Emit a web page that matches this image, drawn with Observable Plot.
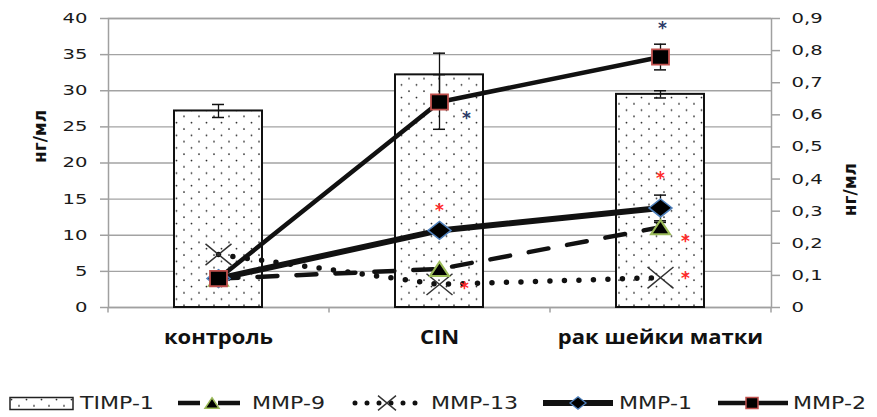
<!DOCTYPE html>
<html><head><meta charset="utf-8">
<script src="https://cdn.jsdelivr.net/npm/d3@7"></script>
<script src="https://cdn.jsdelivr.net/npm/@observablehq/plot@0.6"></script>
<style>body{margin:0;background:#fff;} svg{display:block;}</style>
</head><body><div id="chart"></div>
<script>
// ---- data ----
const categories = ["контроль", "CIN", "рак шейки матки"];
const leftTicks = [0, 5, 10, 15, 20, 25, 30, 35, 40];
const rightTicks = [0, 0.1, 0.2, 0.3, 0.4, 0.5, 0.6, 0.7, 0.8, 0.9];
const timp1 = [27.2, 32.2, 29.5];
const timp1Err = [0.9, 3.0, 0.5];
const mmp9 = [0.09, 0.12, 0.25];
const mmp9Err = [0, 0, 0.015];
const mmp13 = [0.165, 0.072, 0.093];
const mmp1 = [0.09, 0.24, 0.31];
const mmp1Err = [0, 0, 0.04];
const mmp2 = [0.09, 0.64, 0.78];
const mmp2Err = [0, 0.085, 0.04];
// significance asterisks (category, value on right axis)
const starsRedCenter = [["CIN", 0.318], ["рак шейки матки", 0.417]];
const starsRedSide = [["CIN", 0.075], ["рак шейки матки", 0.221], ["рак шейки матки", 0.106]];
const starsDarkCenter = [["рак шейки матки", 0.884]];
const starsDarkSide = [["CIN", 0.604]];
const legendNames = ["TIMP-1", "MMP-9", "MMP-13", "MMP-1", "MMP-2"];

// ---- helpers ----
const k = 40 / 0.9; // right axis -> left axis units
const rowsL = (vals, errs) => categories.map((c, i) => ({c, v: vals[i], e: errs ? errs[i] : 0}));
const rowsR = (vals, errs) => categories.map((c, i) => ({c, v: vals[i] * k, e: errs ? errs[i] * k : 0}));
const timpRows = rowsL(timp1, timp1Err);
const m9 = rowsR(mmp9, mmp9Err), m13 = rowsR(mmp13), m1 = rowsR(mmp1, mmp1Err), m2 = rowsR(mmp2, mmp2Err);
const stars = a => a.map(([c, v]) => ({c, v: v * k}));
const fmtR = d => { const v = Math.round(d / k * 10) / 10; return v === 0 ? "0" : v.toFixed(1).replace(".", ","); };

function sym(fn) { return {draw(ctx, size) { fn(ctx, Math.sqrt(size / Math.PI)); }}; }
const symSquare = sym((c, r) => { c.rect(-r, -r * 0.9, 2 * r, 1.8 * r); });
const symDiamond = sym((c, r) => { c.moveTo(0, -r * 0.78); c.lineTo(r, 0); c.lineTo(0, r * 0.78); c.lineTo(-r, 0); c.closePath(); });
const symTri = sym((c, r) => { c.moveTo(0, -r * 0.75); c.lineTo(r, r * 0.75); c.lineTo(-r, r * 0.75); c.closePath(); });
const symX = sym((c, r) => { const h = r * 0.82; c.moveTo(-r, -h); c.lineTo(r, h); c.moveTo(-r, h); c.lineTo(r, -h); });

const errMarks = (rows, sw) => {
  const d = rows.filter(r => r.e > 0);
  return [
    Plot.ruleX(d, {x: "c", y1: r => r.v - r.e, y2: r => r.v + r.e, stroke: "#111", strokeWidth: sw}),
    Plot.tickY(d, {x: "c", y: r => r.v + r.e, insetLeft: 38, insetRight: 38, stroke: "#111", strokeWidth: 1.5}),
    Plot.tickY(d, {x: "c", y: r => r.v - r.e, insetLeft: 38, insetRight: 38, stroke: "#111", strokeWidth: 1.5})
  ];
};
const starMark = (a, color, dx) => Plot.text(stars(a), {x: "c", y: "v", text: () => "*", fill: color, fontSize: 17, fontWeight: "bold", fontFamily: "DejaVu Sans", dx, dy: 5});

const half = (877 - 108 - 106) / categories.length / 2;

const svg = Plot.plot({
  width: 877, height: 365,
  marginTop: 18, marginLeft: 108, marginRight: 106, marginBottom: 58,
  style: {fontFamily: "DejaVu Sans", background: "white"},
  x: {domain: categories, paddingInner: 0.6, paddingOuter: 0.3, axis: null},
  y: {domain: [0, 40], axis: null},
  marks: [
    Plot.gridY(leftTicks, {stroke: "#a3a3a3", strokeOpacity: 1, strokeWidth: 1.3}),
    Plot.frame({stroke: "#a0a0a0", strokeWidth: 1.5}),
    Plot.ruleX(categories, {x: d => d, y1: 0, y2: -0.75, dx: -half, stroke: "#a0a0a0", strokeWidth: 1.5}),
    Plot.ruleX(categories.slice(-1), {x: d => d, y1: 0, y2: -0.75, dx: half, stroke: "#a0a0a0", strokeWidth: 1.5}),
    Plot.axisY(leftTicks, {anchor: "left", tickSize: 8, tickPadding: 13, stroke: "#a0a0a0", strokeWidth: 1.5, fill: "#1a1a1a", fontSize: 14, fontFamily: "DejaVu Sans", label: null}),
    Plot.axisY(rightTicks.map(v => v * k), {anchor: "right", tickSize: 8, tickPadding: 12, tickFormat: fmtR, stroke: "#a0a0a0", strokeWidth: 1.5, fill: "#1a1a1a", fontSize: 14, fontFamily: "DejaVu Sans", label: null}),
    Plot.axisX({tickSize: 0, tickPadding: 22, fontSize: 20, fontWeight: "bold", fontFamily: "Open Sans", fill: "#111", label: null}),
    Plot.text(["нг/мл"], {frameAnchor: "left", dx: -68, rotate: -90, text: d => d, fontSize: 17, fontWeight: "bold", fontFamily: "DejaVu Sans", fill: "#111"}),
    Plot.text(["нг/мл"], {frameAnchor: "right", dx: 79, rotate: -90, text: d => d, fontSize: 17, fontWeight: "bold", fontFamily: "DejaVu Sans", fill: "#111"}),
    Plot.barY(timpRows, {x: "c", y: "v", fill: "url(#dots)", stroke: "#111", strokeWidth: 2}),
    ...errMarks(timpRows, 1.3),
    Plot.line(m13, {x: "c", y: "v", stroke: "#111", strokeWidth: 5.5, strokeDasharray: "0,14.5", strokeLinecap: "round"}),
    Plot.line(m9, {x: "c", y: "v", stroke: "#111", strokeWidth: 4.5, strokeDasharray: "20,19"}),
    Plot.line(m1, {x: "c", y: "v", stroke: "#111", strokeWidth: 6}),
    Plot.line(m2, {x: "c", y: "v", stroke: "#111", strokeWidth: 4.5}),
    ...errMarks(m9, 1.3), ...errMarks(m1, 1.3), ...errMarks(m2, 1.3),
    Plot.dot(m13, {x: "c", y: "v", symbol: symX, r: 13, stroke: "#333", strokeWidth: 1.5, fill: "none"}),
    Plot.dot(m9, {x: "c", y: "v", symbol: symTri, r: 9.5, fill: "#000", stroke: "#9bbb59", strokeWidth: 2}),
    Plot.dot(m1, {x: "c", y: "v", symbol: symDiamond, r: 11.5, fill: "#000", stroke: "#4f81bd", strokeWidth: 1.5}),
    Plot.dot(m2, {x: "c", y: "v", symbol: symSquare, r: 8.5, fill: "#000", stroke: "#c0504d", strokeWidth: 1.8}),
    starMark(starsRedCenter, "#ff2a2a", 0),
    starMark(starsRedSide, "#ff2a2a", 25),
    starMark(starsDarkCenter, "#2b3a67", 2),
    starMark(starsDarkSide, "#2b3a67", 27)
  ]
});

function addPattern(svgNode, id) {
  const defs = d3.select(svgNode).insert("defs", ":first-child");
  const p = defs.append("pattern").attr("id", id).attr("patternUnits", "userSpaceOnUse")
    .attr("width", 15).attr("height", 12.6);
  p.append("rect").attr("width", 15).attr("height", 12.6).attr("fill", "#fff");
  p.append("circle").attr("cx", 4).attr("cy", 3).attr("r", 0.9).attr("fill", "#222");
  p.append("circle").attr("cx", 11.5).attr("cy", 9.3).attr("r", 0.9).attr("fill", "#222");
}
addPattern(svg, "dots");

function stretch(nodes, s) {
  nodes.forEach(t => {
    const tr = t.getAttribute("transform") || "";
    if (/rotate/.test(tr)) return;
    const x0 = +t.getAttribute("x") || 0, y0 = +t.getAttribute("y") || 0;
    t.setAttribute("transform", `${tr} translate(${x0},${y0}) scale(${s},1) translate(${-x0},${-y0})`);
  });
}
stretch(svg.querySelectorAll('g[aria-label="y-axis tick label"] text'), 1.4);
stretch(svg.querySelectorAll('g[aria-label="x-axis tick label"] text'), 1.1);

document.getElementById("chart").appendChild(svg);

// ---- legend ----
const lg = d3.create("svg").attr("width", 877).attr("height", 52);
addPattern(lg.node(), "dotsL");
const cy = 38;
lg.append("rect").attr("x", 10).attr("y", cy - 5.5).attr("width", 63).attr("height", 12)
  .attr("fill", "url(#dotsL)").attr("stroke", "#222").attr("stroke-width", 1.5);
// MMP-9
lg.append("line").attr("x1", 178).attr("x2", 240).attr("y1", cy).attr("y2", cy).attr("stroke", "#111").attr("stroke-width", 4.5).attr("stroke-dasharray", "22,18");
lg.append("path").attr("transform", `translate(212,${cy})`).attr("d", d3.symbol(symTri, Math.PI * 7 * 7)()).attr("fill", "#000").attr("stroke", "#9bbb59").attr("stroke-width", 1.5);
// MMP-13
lg.append("line").attr("x1", 355).attr("x2", 416).attr("y1", cy).attr("y2", cy).attr("stroke", "#111").attr("stroke-width", 5).attr("stroke-dasharray", "0,12").attr("stroke-linecap", "round");
lg.append("path").attr("transform", `translate(387,${cy})`).attr("d", d3.symbol(symX, Math.PI * 9 * 9)()).attr("fill", "none").attr("stroke", "#333").attr("stroke-width", 1.4);
// MMP-1
lg.append("line").attr("x1", 543).attr("x2", 613).attr("y1", cy).attr("y2", cy).attr("stroke", "#111").attr("stroke-width", 6);
lg.append("path").attr("transform", `translate(578,${cy})`).attr("d", d3.symbol(symDiamond, Math.PI * 8 * 8)()).attr("fill", "#000").attr("stroke", "#4f81bd").attr("stroke-width", 1.3);
// MMP-2
lg.append("line").attr("x1", 718).attr("x2", 788).attr("y1", cy).attr("y2", cy).attr("stroke", "#111").attr("stroke-width", 4.5);
lg.append("path").attr("transform", `translate(752,${cy})`).attr("d", d3.symbol(symSquare, Math.PI * 6 * 6)()).attr("fill", "#000").attr("stroke", "#c0504d").attr("stroke-width", 1.5);
const lx = [80, 252, 431, 619, 793];
legendNames.forEach((n, i) => {
  lg.append("text").attr("x", lx[i]).attr("y", cy).attr("dy", "0.36em")
    .attr("font-family", "DejaVu Sans").attr("font-size", 17).attr("fill", "#222").text(n);
});
stretch(lg.node().querySelectorAll("text"), 1.3);
document.getElementById("chart").appendChild(lg.node());
</script>
</body></html>
